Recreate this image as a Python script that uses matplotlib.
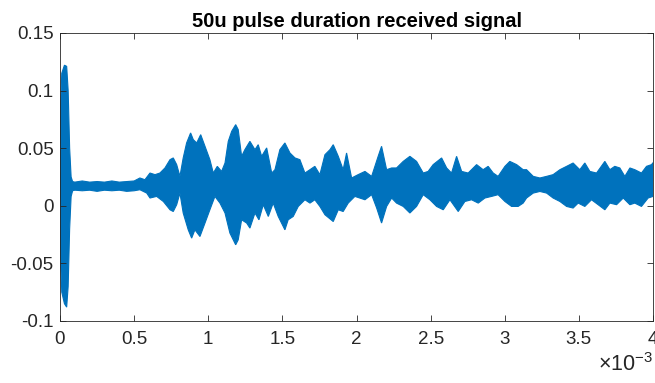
import matplotlib.pyplot as plt
from matplotlib.ticker import FuncFormatter

plt.rcParams['font.family'] = ['Liberation Sans', 'DejaVu Sans']
plt.rcParams['axes.unicode_minus'] = False
plt.rcParams['mathtext.fontset'] = 'custom'
plt.rcParams['mathtext.rm'] = 'Liberation Sans'
plt.rcParams['mathtext.it'] = 'Liberation Sans'

# upper envelope of the received signal (time in ms)
t_up = [0.000, 0.005, 0.012, 0.030, 0.045, 0.055, 0.065, 0.075, 0.085,
        0.10, 0.15, 0.20, 0.25, 0.30, 0.35, 0.40, 0.45, 0.50,
        0.539, 0.573, 0.607, 0.641, 0.674, 0.708, 0.742, 0.764, 0.787, 0.809,
        0.831, 0.854, 0.881, 0.899, 0.922, 0.949, 0.978, 1.011, 1.034, 1.061,
        1.090, 1.113, 1.135, 1.158, 1.185, 1.202, 1.225, 1.247, 1.281, 1.315,
        1.337, 1.360, 1.394, 1.428, 1.450, 1.483, 1.517, 1.551, 1.585, 1.618,
        1.652, 1.686, 1.719, 1.753, 1.787, 1.821, 1.843, 1.877, 1.910, 1.933,
        1.967, 2.011, 2.057, 2.102, 2.146, 2.169, 2.203, 2.237, 2.270, 2.315,
        2.360, 2.405, 2.450, 2.483, 2.517, 2.574, 2.608, 2.641, 2.675, 2.709,
        2.753, 2.810, 2.854, 2.888, 2.922, 2.955, 3.001, 3.034, 3.080, 3.124,
        3.147, 3.192, 3.237, 3.282, 3.326, 3.372, 3.417, 3.461, 3.506, 3.540,
        3.574, 3.619, 3.675, 3.709, 3.742, 3.776, 3.810, 3.844, 3.877, 3.922,
        3.956, 3.990, 4.000]
v_up = [0.020, 0.090, 0.115, 0.122, 0.121, 0.100, 0.050, 0.025, 0.021,
        0.0205, 0.0215, 0.0205, 0.021, 0.0205, 0.0215, 0.0205, 0.021, 0.0215,
        0.0241, 0.0226, 0.0284, 0.0270, 0.0284, 0.0328, 0.0400, 0.0415, 0.0357, 0.0255,
        0.0415, 0.0545, 0.0632, 0.0574, 0.0545, 0.0617, 0.0516, 0.0400, 0.0284, 0.0342,
        0.0298, 0.0371, 0.0559, 0.0646, 0.0704, 0.0661, 0.0429, 0.0487, 0.0559, 0.0487,
        0.0530, 0.0429, 0.0502, 0.0284, 0.0313, 0.0487, 0.0545, 0.0458, 0.0415, 0.0400,
        0.0284, 0.0313, 0.0342, 0.0270, 0.0443, 0.0487, 0.0530, 0.0429, 0.0313, 0.0458,
        0.0241, 0.0270, 0.0298, 0.0255, 0.0429, 0.0516, 0.0313, 0.0328, 0.0328, 0.0385,
        0.0429, 0.0385, 0.0284, 0.0298, 0.0357, 0.0415, 0.0328, 0.0284, 0.0429, 0.0298,
        0.0284, 0.0357, 0.0313, 0.0342, 0.0284, 0.0255, 0.0342, 0.0385, 0.0357, 0.0313,
        0.0313, 0.0255, 0.0241, 0.0255, 0.0270, 0.0313, 0.0342, 0.0371, 0.0313, 0.0371,
        0.0298, 0.0284, 0.0385, 0.0313, 0.0342, 0.0328, 0.0255, 0.0328, 0.0313, 0.0284,
        0.0342, 0.0357, 0.0374]

# lower envelope
t_lo = [0.000, 0.005, 0.012, 0.030, 0.045, 0.055, 0.065, 0.075, 0.085,
        0.10, 0.15, 0.20, 0.25, 0.30, 0.35, 0.40, 0.45, 0.50,
        0.539, 0.585, 0.607, 0.652, 0.697, 0.742, 0.764, 0.787, 0.809, 0.831,
        0.865, 0.888, 0.910, 0.944, 0.978, 1.011, 1.045, 1.079, 1.113, 1.146,
        1.185, 1.202, 1.225, 1.259, 1.281, 1.315, 1.342, 1.371, 1.405, 1.438,
        1.472, 1.517, 1.539, 1.573, 1.607, 1.652, 1.686, 1.719, 1.753, 1.787,
        1.843, 1.877, 1.910, 1.944, 1.989, 2.057, 2.102, 2.136, 2.169, 2.203,
        2.237, 2.270, 2.315, 2.360, 2.405, 2.450, 2.495, 2.540, 2.585, 2.630,
        2.686, 2.731, 2.776, 2.821, 2.866, 2.911, 2.955, 3.001, 3.046, 3.090,
        3.124, 3.147, 3.192, 3.237, 3.282, 3.326, 3.372, 3.417, 3.461, 3.495,
        3.540, 3.585, 3.630, 3.675, 3.709, 3.754, 3.799, 3.844, 3.877, 3.922,
        3.967, 4.000]
v_lo = [0.015, -0.050, -0.075, -0.085, -0.088, -0.070, -0.020, 0.008, 0.013,
        0.0135, 0.013, 0.0135, 0.0125, 0.0135, 0.013, 0.0135, 0.0125, 0.013,
        0.0139, 0.0110, 0.0067, 0.0081, 0.0037, -0.0035, -0.0050, 0.0009, 0.0110, -0.0063,
        -0.0209, -0.0281, -0.0209, -0.0267, -0.0150, -0.0035, 0.0081, 0.0023, -0.0063, -0.0237,
        -0.0339, -0.0296, -0.0122, -0.0150, -0.0194, -0.0063, -0.0122, 0.0009, -0.0093, 0.0023,
        -0.0093, -0.0209, -0.0122, -0.0093, -0.0006, 0.0052, 0.0023, 0.0052, -0.0006, -0.0078,
        -0.0137, -0.0035, -0.0050, 0.0023, 0.0081, 0.0052, 0.0096, -0.0020, -0.0150, -0.0006,
        0.0067, 0.0023, -0.0006, -0.0063, -0.0006, 0.0096, 0.0052, -0.0006, -0.0035, 0.0052,
        -0.0050, 0.0037, 0.0052, 0.0023, 0.0067, 0.0081, 0.0096, 0.0037, -0.0006, -0.0006,
        0.0023, 0.0067, 0.0110, 0.0124, 0.0110, 0.0067, 0.0037, -0.0006, -0.0020, 0.0023,
        -0.0006, 0.0052, 0.0009, -0.0035, 0.0023, 0.0009, 0.0067, 0.0009, 0.0023, -0.0006,
        0.0067, 0.0081]

xticks = [0, 0.5, 1, 1.5, 2, 2.5, 3, 3.5, 4]
yticks = [-0.1, -0.05, 0, 0.05, 0.1, 0.15]

fig = plt.figure(figsize=(6.55, 3.83), dpi=100)
ax = fig.add_axes([0.0916, 0.162, 0.9054, 0.752])

# signal band: upper envelope forward, lower envelope back
ax.fill(t_up + t_lo[::-1], v_up + v_lo[::-1], color='#0072BD',
        edgecolor='#0072BD', linewidth=0.8)

ax.set_xlim(0, 4)
ax.set_ylim(-0.1, 0.15)
ax.set_xticks(xticks)
ax.set_yticks(yticks)
fmt = FuncFormatter(lambda v, p: '{:g}'.format(round(v, 6)))
ax.xaxis.set_major_formatter(fmt)
ax.yaxis.set_major_formatter(fmt)
ax.tick_params(direction='in', top=True, right=True, length=4, width=0.6,
               colors='#262626', labelsize=13.5)
ax.tick_params(axis='x', pad=7)
ax.tick_params(axis='y', pad=4.5)
for s in ax.spines.values():
    s.set_color('#262626')
    s.set_linewidth(0.6)

ax.set_title('50u pulse duration received signal', fontsize=14.5, fontweight='bold',
             color='black', pad=4.5)
ax.text(1.0, -0.11, r'$\times10^{-3}$', transform=ax.transAxes, ha='right', va='top',
        fontsize=15.5, color='#262626')

fig.savefig('out.png', dpi=100)
